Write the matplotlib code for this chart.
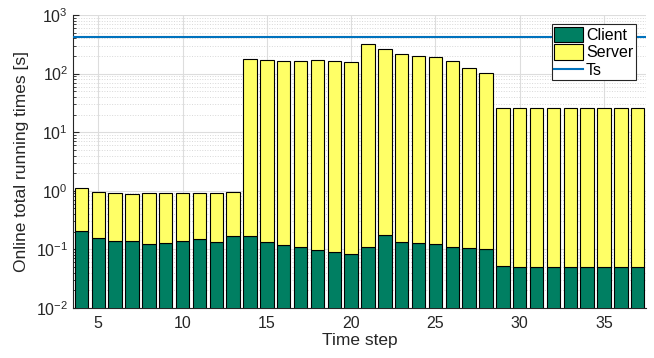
import numpy as np
import matplotlib
matplotlib.use("Agg")
import matplotlib.pyplot as plt
from matplotlib.ticker import LogLocator, NullFormatter

plt.rcParams['font.family'] = ['Liberation Sans', 'DejaVu Sans']

# time steps and measured running times [s]
steps = list(range(4, 38))
client = [0.206, 0.155, 0.137, 0.138, 0.124, 0.130, 0.138, 0.148, 0.135, 0.167,
          0.170, 0.134, 0.119, 0.108, 0.098, 0.089, 0.082, 0.110, 0.176, 0.135,
          0.129, 0.124, 0.110, 0.107, 0.101, 0.0514, 0.0505, 0.0505, 0.0505, 0.0505,
          0.0505, 0.0505, 0.0505, 0.0505]
total = [1.10, 0.94, 0.916, 0.88, 0.91, 0.916, 0.916, 0.93, 0.91, 0.955,
         175, 169, 162, 166, 171, 166, 160, 316, 260, 213,
         197, 190, 162, 123, 103, 25.6, 25.6, 25.6, 25.6, 25.6,
         25.6, 25.6, 25.6, 25.6]
server = [t - c for t, c in zip(total, client)]
ts = 430

fig = plt.figure(figsize=(6.54, 3.58), dpi=100)
ax = fig.add_axes([0.1116, 0.1397, 0.8764, 0.8183])

b1 = ax.bar(steps, client, width=0.8, color='#007F62', edgecolor='black', linewidth=0.8,
            label='Client', zorder=3)
b2 = ax.bar(steps, server, width=0.8, bottom=client, color='#FFFF66', edgecolor='black',
            linewidth=0.8, label='Server', zorder=3)
ln = ax.axhline(ts, color='#0072BD', linewidth=1.5, label='Ts', zorder=4)

ax.set_yscale('log')
ax.set_ylim(1e-2, 1e3)
ax.set_xlim(3.5, 37.5)
ax.set_xticks([5, 10, 15, 20, 25, 30, 35])
ax.yaxis.set_minor_locator(LogLocator(base=10, subs=np.arange(2, 10), numticks=20))
ax.yaxis.set_minor_formatter(NullFormatter())

ax.grid(True, which='major', color='#DDDDDD', linewidth=0.8, zorder=0)
ax.grid(True, which='minor', axis='y', color='#D8D8D8', linestyle=':', linewidth=0.7, zorder=0)
ax.set_axisbelow(True)

for s in ['top', 'right']:
    ax.spines[s].set_visible(False)
ax.spines['left'].set_color('#262626')
ax.spines['bottom'].set_color('#262626')
ax.tick_params(axis='both', which='both', direction='in', colors='#262626', labelsize=11.5)
ax.tick_params(axis='x', which='both', length=0, pad=6)
ax.tick_params(axis='y', which='major', length=4)
ax.tick_params(axis='y', which='minor', length=2)

ax.set_xlabel('Time step', fontsize=12.5, color='#262626', labelpad=1)
ax.set_ylabel('Online total running times [s]', fontsize=12.5, color='#262626', labelpad=5)

leg = ax.legend([b1, b2, ln], ['Client', 'Server', 'Ts'], loc='upper right',
                bbox_to_anchor=(0.99, 0.985), fontsize=11.5,
                frameon=True, fancybox=False, edgecolor='#262626', framealpha=1,
                borderpad=0.15, labelspacing=0.1, handlelength=1.8, handleheight=1.1,
                handletextpad=0.2, borderaxespad=0.3)
leg.get_frame().set_linewidth(0.8)

fig.savefig('out.png', dpi=100)
